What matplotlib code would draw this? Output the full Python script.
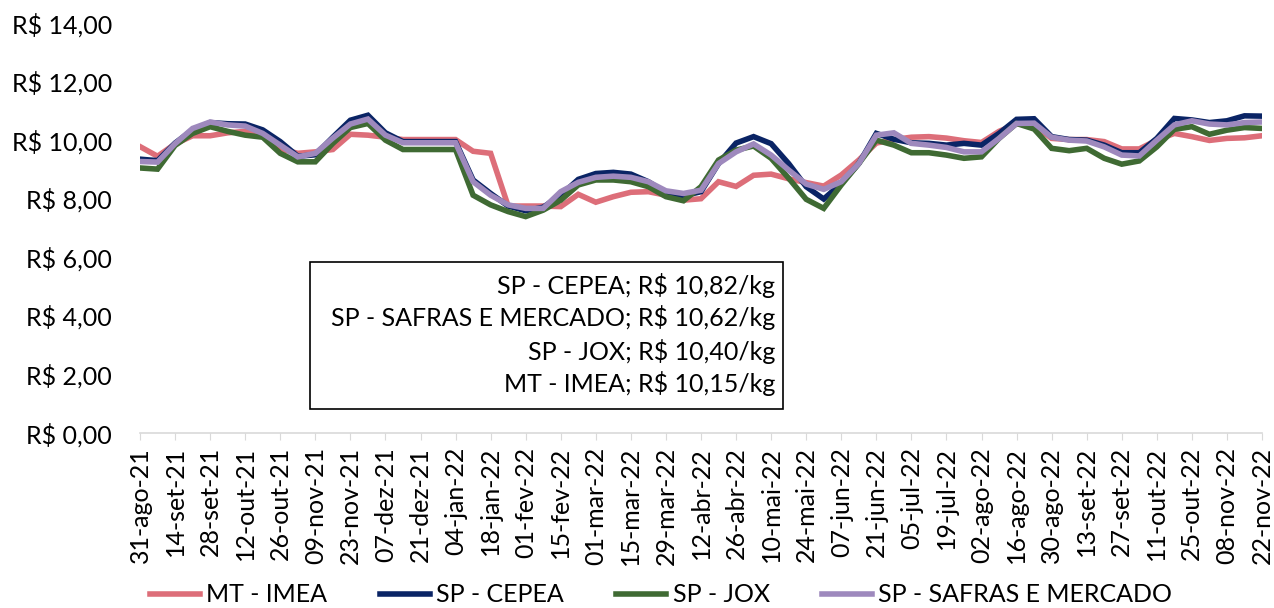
import matplotlib.pyplot as plt
from matplotlib.patches import Rectangle
import numpy as np

# weekly prices (R$/kg), 31-ago-21 .. 22-nov-22
mt_imea = [9.78, 9.45, 9.87, 10.15, 10.15, 10.25, 10.30, 10.12, 9.70, 9.55,
           9.60, 9.68, 10.20, 10.17, 10.10, 10.02, 10.02, 10.02, 10.02, 9.62,
           9.55, 7.75, 7.75, 7.75, 7.73, 8.15, 7.88, 8.07, 8.22, 8.24,
           8.12, 7.95, 8.00, 8.58, 8.42, 8.80, 8.84, 8.68, 8.55, 8.43,
           8.81, 9.32, 9.90, 10.02, 10.10, 10.12, 10.07, 9.98, 9.92, 10.30,
           10.55, 10.52, 10.06, 10.02, 10.02, 9.95, 9.70, 9.70, 10.00, 10.23,
           10.12, 9.99, 10.06, 10.08, 10.15]
sp_cepea = [9.35, 9.30, 9.90, 10.35, 10.60, 10.56, 10.55, 10.35, 9.95, 9.45,
            9.50, 10.10, 10.68, 10.85, 10.25, 9.95, 9.95, 9.95, 9.95, 8.64,
            8.18, 7.75, 7.59, 7.71, 8.12, 8.66, 8.86, 8.90, 8.84, 8.58,
            8.20, 8.10, 8.24, 9.20, 9.90, 10.12, 9.88, 9.20, 8.41, 7.99,
            8.52, 9.20, 10.23, 10.03, 9.91, 9.89, 9.83, 9.89, 9.83, 10.23,
            10.71, 10.73, 10.12, 10.02, 10.00, 9.83, 9.57, 9.57, 10.06, 10.74,
            10.69, 10.60, 10.66, 10.83, 10.82]
sp_jox = [9.05, 9.01, 9.82, 10.23, 10.46, 10.30, 10.17, 10.10, 9.55, 9.26,
          9.26, 9.89, 10.43, 10.57, 10.00, 9.68, 9.68, 9.68, 9.68, 8.12,
          7.79, 7.56, 7.39, 7.61, 7.95, 8.47, 8.64, 8.64, 8.58, 8.41,
          8.07, 7.93, 8.41, 9.32, 9.66, 9.80, 9.38, 8.70, 7.98, 7.67,
          8.47, 9.20, 10.00, 9.83, 9.57, 9.57, 9.49, 9.38, 9.43, 10.06,
          10.57, 10.38, 9.72, 9.64, 9.72, 9.38, 9.18, 9.29, 9.77, 10.37,
          10.46, 10.20, 10.34, 10.43, 10.40]
sp_safras = [9.27, 9.25, 9.88, 10.40, 10.62, 10.52, 10.48, 10.23, 9.83, 9.43,
             9.55, 10.07, 10.55, 10.72, 10.17, 9.91, 9.91, 9.91, 9.91, 8.58,
             8.12, 7.79, 7.67, 7.67, 8.24, 8.56, 8.73, 8.77, 8.73, 8.58,
             8.27, 8.18, 8.29, 9.20, 9.60, 9.87, 9.49, 8.98, 8.50, 8.32,
             8.58, 9.20, 10.17, 10.25, 9.89, 9.83, 9.75, 9.60, 9.60, 10.06,
             10.57, 10.58, 10.10, 10.00, 9.97, 9.77, 9.49, 9.46, 10.00, 10.52,
             10.66, 10.55, 10.52, 10.60, 10.62]

tick_labels = ['31-ago-21', '14-set-21', '28-set-21', '12-out-21', '26-out-21',
               '09-nov-21', '23-nov-21', '07-dez-21', '21-dez-21', '04-jan-22',
               '18-jan-22', '01-fev-22', '15-fev-22', '01-mar-22', '15-mar-22',
               '29-mar-22', '12-abr-22', '26-abr-22', '10-mai-22', '24-mai-22',
               '07-jun-22', '21-jun-22', '05-jul-22', '19-jul-22', '02-ago-22',
               '16-ago-22', '30-ago-22', '13-set-22', '27-set-22', '11-out-22',
               '25-out-22', '08-nov-22', '22-nov-22']

series = [('MT - IMEA', mt_imea, '#DD6E79'),
          ('SP - CEPEA', sp_cepea, '#0A2465'),
          ('SP - JOX', sp_jox, '#3F6A33'),
          ('SP - SAFRAS E MERCADO', sp_safras, '#9E89BD')]

plt.rcParams['font.family'] = ['Lato', 'DejaVu Sans']
fs = 18

fig = plt.figure(figsize=(12.74, 6.08), dpi=100)
ax = fig.add_axes([140/1274, 1-433/608, 1122/1274, 410/608])

x = np.arange(len(mt_imea))
for name, vals, col in series:
    ax.plot(x, vals, color=col, lw=4, label=name, solid_joinstyle='miter')

ax.set_xlim(0, len(x)-1)
ax.set_ylim(0, 14)
ax.set_yticks(np.arange(0, 15, 2))
ax.set_yticklabels(['R$ {:.2f}'.format(v).replace('.', ',') for v in np.arange(0, 15, 2)],
                   fontsize=fs)
ax.set_xticks(x[::2])
ax.set_xticklabels(tick_labels, rotation=90, fontsize=fs)
ax.tick_params(axis='y', length=0, pad=20)
ax.tick_params(axis='x', length=5, color='#D9D9D9', pad=5)
for s in ['top', 'right', 'left']:
    ax.spines[s].set_visible(False)
ax.spines['bottom'].set_color('#D9D9D9')
ax.spines['bottom'].set_linewidth(1.2)
ax.spines['bottom'].set_zorder(0)

# annotation box with last values
fig.add_artist(Rectangle((310/1274, 1-409/608), 473/1274, 147/608,
                         transform=fig.transFigure, fill=False,
                         edgecolor='black', lw=1.2))
order = [1, 3, 2, 0]
ys = [286, 318, 351, 383]
for k, yy in zip(order, ys):
    name, vals, col = series[k]
    txt = '{}; R$ {:.2f}/kg'.format(name, vals[-1]).replace('.', ',')
    fig.text(775/1274, 1-yy/608, txt, ha='right', va='center', fontsize=fs)

fig.legend(loc='center', bbox_to_anchor=(0.519, 1-595/608), ncol=4,
           frameon=False, fontsize=fs, handlelength=2.0, handletextpad=0.25,
           columnspacing=2.1)

fig.savefig('out.png', dpi=100)
